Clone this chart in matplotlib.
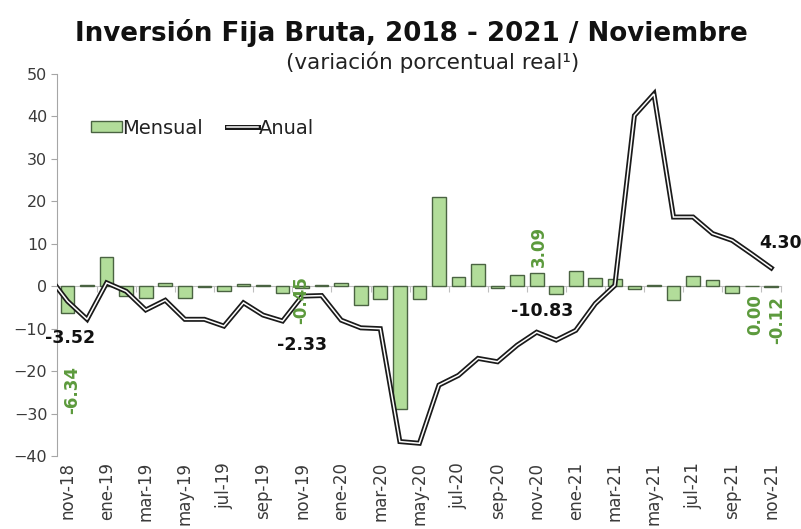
import matplotlib
matplotlib.use("Agg")
import matplotlib.pyplot as plt
import matplotlib.patheffects as pe
import matplotlib.transforms as mtransforms
from matplotlib.patches import Patch
from matplotlib.lines import Line2D

plt.rcParams['font.family'] = ['DejaVu Sans']

# ---- data ----
months = ["nov-18", "dic-18", "ene-19", "feb-19", "mar-19", "abr-19", "may-19", "jun-19",
          "jul-19", "ago-19", "sep-19", "oct-19", "nov-19", "dic-19", "ene-20", "feb-20",
          "mar-20", "abr-20", "may-20", "jun-20", "jul-20", "ago-20", "sep-20", "oct-20",
          "nov-20", "dic-20", "ene-21", "feb-21", "mar-21", "abr-21", "may-21", "jun-21",
          "jul-21", "ago-21", "sep-21", "oct-21", "nov-21"]

mensual = [-6.34, 0.2, 6.9, -2.3, -2.8, 0.8, -2.7, -0.1,
           -1.1, 0.5, 0.2, -1.7, -0.45, 0.2, 0.8, -4.5,
           -2.9, -29.0, -3.1, 21.0, 2.2, 5.2, -0.4, 2.75,
           3.09, -1.9, 3.5, 2.0, 1.6, -0.6, 0.3, -3.3,
           2.35, 1.4, -1.7, 0.00, -0.12]

anual = [-3.52, -7.8, 0.8, -1.2, -5.6, -3.3, -7.8, -7.8,
         -9.4, -3.9, -6.8, -8.2, -2.33, -2.2, -8.0, -9.8,
         -10.0, -36.6, -37.0, -23.3, -21.0, -17.0, -17.8, -13.9,
         -10.83, -12.7, -10.4, -4.1, 0.2, 40.2, 45.3, 16.3,
         16.3, 12.4, 10.8, 7.6, 4.30]

anual_prev = 2.5  # oct-18, only its segment into nov-18 is visible

tick_months = months[::2]

# labelled values: (index, text)
anual_labels = [(0, "-3.52"), (12, "-2.33"), (24, "-10.83"), (36, "4.30")]
mensual_labels = [(0, "-6.34"), (12, "-0.45"), (24, "3.09"), (35, "0.00"), (36, "-0.12")]

# ---- figure ----
W, H = 801, 529
fig = plt.figure(figsize=(W / 100, H / 100), dpi=100)
ax = fig.add_axes([57 / W, 1 - 456 / H, (781 - 57) / W, (456 - 74) / H])

x = list(range(len(months)))
bar_face = '#b2dd9a'
bar_edge = '#4a6342'
ax.bar(x, mensual, width=0.7, color=bar_face, edgecolor=bar_edge, linewidth=1.0, zorder=2)

line_x = [-1] + x
line_y = [anual_prev] + anual
ax.plot(line_x, line_y, color='white', linewidth=1.1, solid_joinstyle='miter',
        path_effects=[pe.Stroke(linewidth=3.6, foreground='#1a1a1a'), pe.Normal()],
        zorder=3)

ax.set_xlim(-0.54, 36.5)
ax.set_ylim(-40, 50)

# axes styling
for s in ['top', 'right']:
    ax.spines[s].set_visible(False)
ax.spines['left'].set_color('#a6a6a6')
ax.spines['bottom'].set_position(('data', 0))
ax.spines['bottom'].set_color('#bfbfbf')
ax.spines['bottom'].set_zorder(1)
ax.set_xticks([i - 0.5 for i in range(0, 37, 2)] + [36.5])
ax.set_xticklabels([])
ax.tick_params(axis='x', direction='out', length=4, color='#bfbfbf')
ax.set_yticks(range(-40, 51, 10))
ax.tick_params(axis='y', direction='out', length=4, color='#a6a6a6',
               labelsize=11.5, labelcolor='#3a3a3a', pad=3)

trans = mtransforms.blended_transform_factory(ax.transData, ax.transAxes)
for i in range(0, len(months), 2):
    ax.text(i, -0.016, months[i], transform=trans, rotation=90, ha='center', va='top',
            fontsize=12, color='#3a3a3a')

# data labels
ann_pos = {0: (70, 338), 12: (302, 345), 24: (542, 311), 36: (781, 243)}
for i, t in anual_labels:
    px, py = ann_pos[i]
    fig.text(px / W, 1 - py / H, t, ha='center', va='center', fontsize=12.5,
             fontweight='bold', color='#111111')

green = '#5c9a3c'
mens_pos = {0: (72, 390), 12: (301, 300), 24: (539, 246), 35: (755, 315), 36: (777, 320)}
for i, t in mensual_labels:
    px, py = mens_pos[i]
    fig.text(px / W, 1 - py / H, t, ha='center', va='center', fontsize=12,
             fontweight='bold', color=green, rotation=90)

# legend
h1 = Patch(facecolor=bar_face, edgecolor=bar_edge, linewidth=1.0)
h2 = Line2D([], [], color='white', linewidth=1.1,
            path_effects=[pe.Stroke(linewidth=3.6, foreground='#1a1a1a'), pe.Normal()])
fig.legend([h1, h2], ["Mensual", "Anual"], loc='center left',
           bbox_to_anchor=(73 / W, 1 - 128 / H), ncol=2, frameon=False,
           fontsize=14, handlelength=1.6, handletextpad=0.05, columnspacing=1.2,
           handleheight=0.55, labelcolor='#222222')

# titles
fig.text(411 / W, 1 - 33 / H, "Inversión Fija Bruta, 2018 - 2021 / Noviembre",
         ha='center', va='center', fontsize=18.8, fontweight='bold', color='#111111')
fig.text(433 / W, 1 - 62 / H, "(variación porcentual real¹)",
         ha='center', va='center', fontsize=15.5, color='#222222')

fig.savefig("out.png", dpi=100)
